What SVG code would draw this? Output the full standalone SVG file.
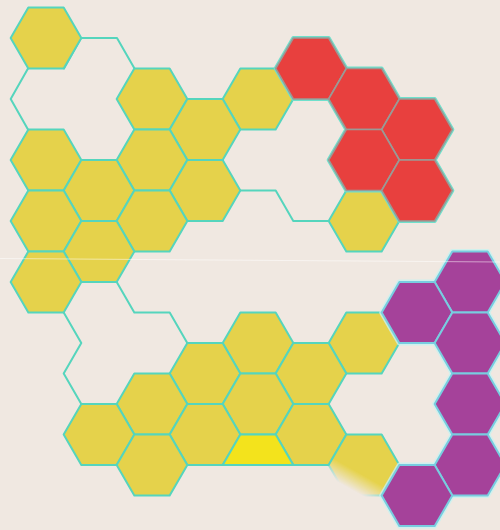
<svg xmlns="http://www.w3.org/2000/svg" xmlns:xlink="http://www.w3.org/1999/xlink" width="500" height="530" viewBox="0 0 500 530">
  <defs>
    <polygon id="hex" points="-35.33,0 -17.67,-30.5 17.67,-30.5 35.33,0 17.67,30.5 -17.67,30.5"/>
    <linearGradient id="fadeGrad" gradientUnits="userSpaceOnUse" x1="352" y1="490" x2="361" y2="474">
      <stop offset="0" stop-color="#000"/>
      <stop offset="1" stop-color="#fff"/>
    </linearGradient>
    <mask id="fadeMask" maskUnits="userSpaceOnUse" x="0" y="0" width="500" height="530">
      <rect x="0" y="0" width="500" height="530" fill="url(#fadeGrad)"/>
    </mask>
    <style>
      .y { fill: #e5d24b; stroke: #55d5bd; stroke-width: 2; stroke-linejoin: round; }
      .yb { fill: #f3e31c; stroke: #55d5bd; stroke-width: 2; stroke-linejoin: round; }
      .rglow { fill: none; stroke: #6fe0cc; stroke-width: 4; stroke-linejoin: round; }
      .r { fill: #e8403e; stroke: #9a9a96; stroke-width: 1.6; stroke-linejoin: round; }
      .pglow { fill: none; stroke: #c8f2f0; stroke-width: 5; stroke-linejoin: round; opacity: 0.8; }
      .p { fill: #a5429a; stroke: #78cde0; stroke-width: 2; stroke-linejoin: round; }
      .edge { fill: none; stroke: #55d5bd; stroke-width: 2; stroke-linecap: round; stroke-linejoin: round; }
    </style>
  </defs>

  <rect x="0" y="0" width="500" height="530" fill="#f0e8e1"/>

  <!-- region outline (empty cells) -->
  <g id="outline">
    <polyline class="edge" points="64,68.5 81,38 117,38 134.5,68.5"/>
    <polyline class="edge" points="28,68.5 10.7,99 28,129.5"/>
    <polyline class="edge" points="240,190.5 275.7,190.5 293.3,221 328.7,221"/>
    <polyline class="edge" points="63.7,312.5 81.3,343 63.7,373.5 81.3,404"/>
    <polyline class="edge" points="116.7,282 134.3,312.5 169.7,312.5 187.3,343"/>
    <line class="edge" x1="222.7" y1="465" x2="293.3" y2="465"/>
  </g>

  <!-- yellow cells -->
  <g id="yellow-cells">
    <use id="y-0-0" class="y" href="#hex" x="46" y="38"/>
    <use id="y-2-1" class="y" href="#hex" x="152" y="99"/>
    <use id="y-4-1" class="y" href="#hex" x="258" y="99"/>
    <use id="y-3-1" class="y" href="#hex" x="205" y="129.5"/>
    <use id="y-0-2" class="y" href="#hex" x="46" y="160"/>
    <use id="y-2-2" class="y" href="#hex" x="152" y="160"/>
    <use id="y-1-2" class="y" href="#hex" x="99" y="190.5"/>
    <use id="y-3-2" class="y" href="#hex" x="205" y="190.5"/>
    <use id="y-0-3" class="y" href="#hex" x="46" y="221"/>
    <use id="y-2-3" class="y" href="#hex" x="152" y="221"/>
    <use id="y-6-3" class="y" href="#hex" x="364" y="221"/>
    <use id="y-1-3" class="y" href="#hex" x="99" y="251.5"/>
    <use id="y-0-4" class="y" href="#hex" x="46" y="282"/>
    <use id="y-4-5" class="y" href="#hex" x="258" y="343"/>
    <use id="y-6-5" class="y" href="#hex" x="364" y="343"/>
    <use id="y-3-5" class="y" href="#hex" x="205" y="373.5"/>
    <use id="y-5-5" class="y" href="#hex" x="311" y="373.5"/>
    <use id="y-2-6" class="y" href="#hex" x="152" y="404"/>
    <use id="y-4-6" class="y" href="#hex" x="258" y="404"/>
    <use id="y-1-6" class="y" href="#hex" x="99" y="434.5"/>
    <use id="y-3-6" class="y" href="#hex" x="205" y="434.5"/>
    <use id="y-5-6" class="y" href="#hex" x="311" y="434.5"/>
    <use id="y-2-7" class="y" href="#hex" x="152" y="465"/>
  </g>
  <g id="y-4-7">
    <polygon class="yb" points="222.7,465 240.3,434.5 275.7,434.5 293.3,465"/>
  </g>
  <g id="y-6-7" mask="url(#fadeMask)">
    <use class="y" href="#hex" x="364" y="465"/>
  </g>

  <!-- red cells -->
  <g id="red-cells">
    <use class="rglow" href="#hex" x="311" y="68.5"/>
    <use class="rglow" href="#hex" x="364" y="99"/>
    <use class="rglow" href="#hex" x="417" y="129.5"/>
    <use class="rglow" href="#hex" x="364" y="160"/>
    <use class="rglow" href="#hex" x="417" y="190.5"/>
    <use id="r-5-0" class="r" href="#hex" x="311" y="68.5"/>
    <use id="r-6-1" class="r" href="#hex" x="364" y="99"/>
    <use id="r-7-1" class="r" href="#hex" x="417" y="129.5"/>
    <use id="r-6-2" class="r" href="#hex" x="364" y="160"/>
    <use id="r-7-2" class="r" href="#hex" x="417" y="190.5"/>
  </g>

  <!-- purple cells -->
  <g id="purple-cells">
    <use class="pglow" href="#hex" x="470" y="282"/>
    <use class="pglow" href="#hex" x="417" y="312.5"/>
    <use class="pglow" href="#hex" x="470" y="343"/>
    <use class="pglow" href="#hex" x="470" y="404"/>
    <use class="pglow" href="#hex" x="470" y="465"/>
    <use class="pglow" href="#hex" x="417" y="495.5"/>
    <use id="p-8-4" class="p" href="#hex" x="470" y="282"/>
    <use id="p-7-4" class="p" href="#hex" x="417" y="312.5"/>
    <use id="p-8-5" class="p" href="#hex" x="470" y="343"/>
    <use id="p-8-6" class="p" href="#hex" x="470" y="404"/>
    <use id="p-8-7" class="p" href="#hex" x="470" y="465"/>
    <use id="p-7-7" class="p" href="#hex" x="417" y="495.5"/>
  </g>

  <line x1="0" y1="258.5" x2="500" y2="262" stroke="#ffffff" stroke-width="1" opacity="0.5"/>
</svg>
